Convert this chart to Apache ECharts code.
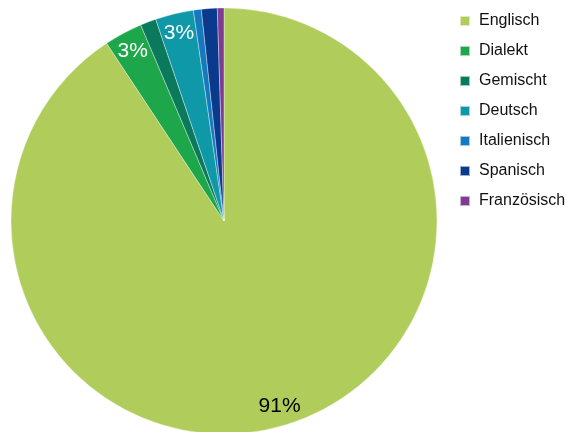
<!DOCTYPE html>
<html>
<head>
<meta charset="utf-8">
<style>
  html, body { margin: 0; padding: 0; background: #fff; }
  #chart { width: 570px; height: 432px; }
</style>
<script src="https://cdn.jsdelivr.net/npm/echarts@6/dist/echarts.min.js"></script>
</head>
<body>
<div id="chart"></div>
<script>
// Data (share of answers, %)
const languages = ['Englisch', 'Dialekt', 'Gemischt', 'Deutsch', 'Italienisch', 'Spanisch', 'Französisch'];
const shares = [90.8, 2.9, 1.2, 2.9, 0.6, 1.2, 0.5];
const colors = ['#b0cd5b', '#1ea64a', '#0b7a5c', '#0f98a8', '#1479bf', '#0a3a8c', '#7f3b94'];
const labelColors = ['#000000', '#ffffff', '#ffffff', '#ffffff', '#ffffff', '#ffffff', '#ffffff'];

const chart = echarts.init(document.getElementById('chart'));
const center = [224, 221];

const pieData = languages.map((name, i) => ({
    value: shares[i],
    name: name,
    itemStyle: { color: colors[i] }
}));

// Labels sit near the rim, so they come from a second, invisible pie
const labelData = languages.map((name, i) => ({
    value: shares[i],
    name: name,
    itemStyle: { color: 'rgba(0,0,0,0)' },
    label: {
        show: shares[i] >= 2.5,
        color: labelColors[i]
    }
}));

chart.setOption({
    animation: false,
    legend: {
        orient: 'vertical',
        left: 459,
        top: 13,
        padding: 0,
        itemWidth: 10,
        itemHeight: 10,
        itemGap: 14,
        icon: 'rect',
        data: languages,
        textStyle: {
            fontFamily: 'Liberation Sans',
            fontSize: 16,
            lineHeight: 16,
            padding: [0, 0, 0, 4],
            color: '#111'
        }
    },
    series: [
        {
            name: 'Sprache',
            type: 'pie',
            center: center,
            radius: 213,
            startAngle: 90,
            clockwise: true,
            silent: true,
            data: pieData,
            itemStyle: { borderColor: 'rgba(255,255,255,0.6)', borderWidth: 0.6 },
            label: { show: false },
            labelLine: { show: false }
        },
        {
            name: 'Labels',
            type: 'pie',
            center: center,
            radius: 380,
            startAngle: 90,
            clockwise: true,
            silent: true,
            legendHoverLink: false,
            data: labelData,
            label: {
                position: 'inside',
                formatter: p => Math.round(p.value) + '%',
                fontFamily: 'Liberation Sans',
                fontSize: 21
            },
            labelLine: { show: false }
        }
    ]
});
</script>
</body>
</html>
